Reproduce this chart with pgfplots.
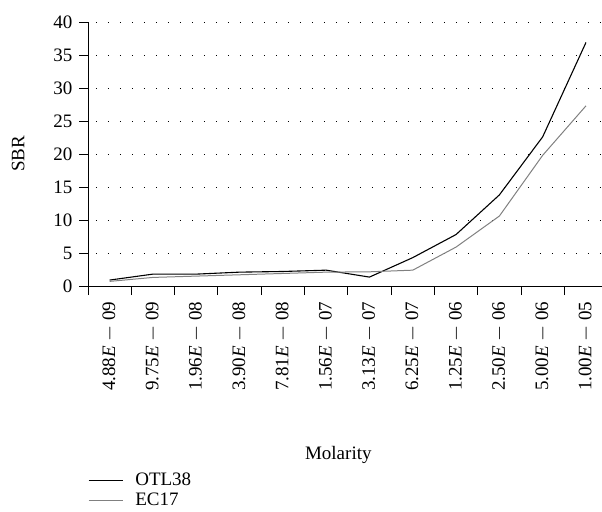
\documentclass[border=0pt]{standalone}
\usepackage{pgfplots}
\pgfplotsset{compat=1.18}
\usepackage{fontspec}
\setmainfont{Liberation Serif}
\newcommand{\ff}{\fontsize{19bp}{22bp}\selectfont}
\begin{document}
\ff
\begin{tikzpicture}
\begin{axis}[
  scale only axis,
  width=514bp, height=264bp,
  xmin=-0.5, xmax=11.37,
  ymin=0, ymax=40,
  axis x line*=bottom, axis y line*=left,
  axis line style={line width=1pt,-},
  xtick={0,...,11},
  xticklabels={
    {4.88\textit{E} $-$ 09},{9.75\textit{E} $-$ 09},{1.96\textit{E} $-$ 08},{3.90\textit{E} $-$ 08},
    {7.81\textit{E} $-$ 08},{1.56\textit{E} $-$ 07},{3.13\textit{E} $-$ 07},{6.25\textit{E} $-$ 07},
    {1.25\textit{E} $-$ 06},{2.50\textit{E} $-$ 06},{5.00\textit{E} $-$ 06},{1.00\textit{E} $-$ 05}},
  x tick label style={rotate=90, anchor=east, font=\ff},
  major x tick style={draw=none},
  minor xtick={-0.5,0.5,...,10.5},
  minor tick length=9bp,
  minor x tick style={line width=1pt, black},
  ytick={0,5,...,40},
  major tick length=9bp,
  tick align=outside,
  y tick style={line width=1pt, black},
  /pgf/number format/assume math mode=true,
  yticklabel style={font=\ff},
  ymajorgrids,
  major grid style={black, line width=0.8pt, dash pattern=on 0.8pt off 11.2bp, dash phase=-8bp},
  xlabel={Molarity},
  xlabel style={at={(axis description cs:0.487,-0.64)}, anchor=center, font=\ff},
  ylabel={SBR},
  ylabel style={at={(axis description cs:-0.136,0.5)}, anchor=center, rotate=0, font=\ff},
  legend style={at={(axis description cs:0,-0.70)}, anchor=north west, draw=none, fill=none,
    font=\ff, row sep=0pt, column sep=10bp, inner xsep=0pt, inner ysep=0pt},
  legend cell align=left,
  legend image code/.code={\draw[#1] (0bp,0bp) -- (34bp,0bp);},
  clip=false,
]
\coordinate (o) at (rel axis cs:0,0);
\addplot[black, line width=1.1pt] coordinates {
(0,0.9) (1,1.8) (2,1.8) (3,2.1) (4,2.2) (5,2.4) (6,1.35) (7,4.3) (8,7.8) (9,13.8) (10,22.6) (11,36.9)};
\addlegendentry{OTL38}
\addplot[gray, line width=1pt] coordinates {
(0,0.7) (1,1.3) (2,1.5) (3,1.7) (4,1.9) (5,2.1) (6,2.15) (7,2.4) (8,5.9) (9,10.6) (10,19.8) (11,27.3)};
\addlegendentry{EC17}
\end{axis}
\pgfresetboundingbox
\path (o) ++(-88bp,-226bp) rectangle ++(602bp,512bp);
\end{tikzpicture}
\end{document}
